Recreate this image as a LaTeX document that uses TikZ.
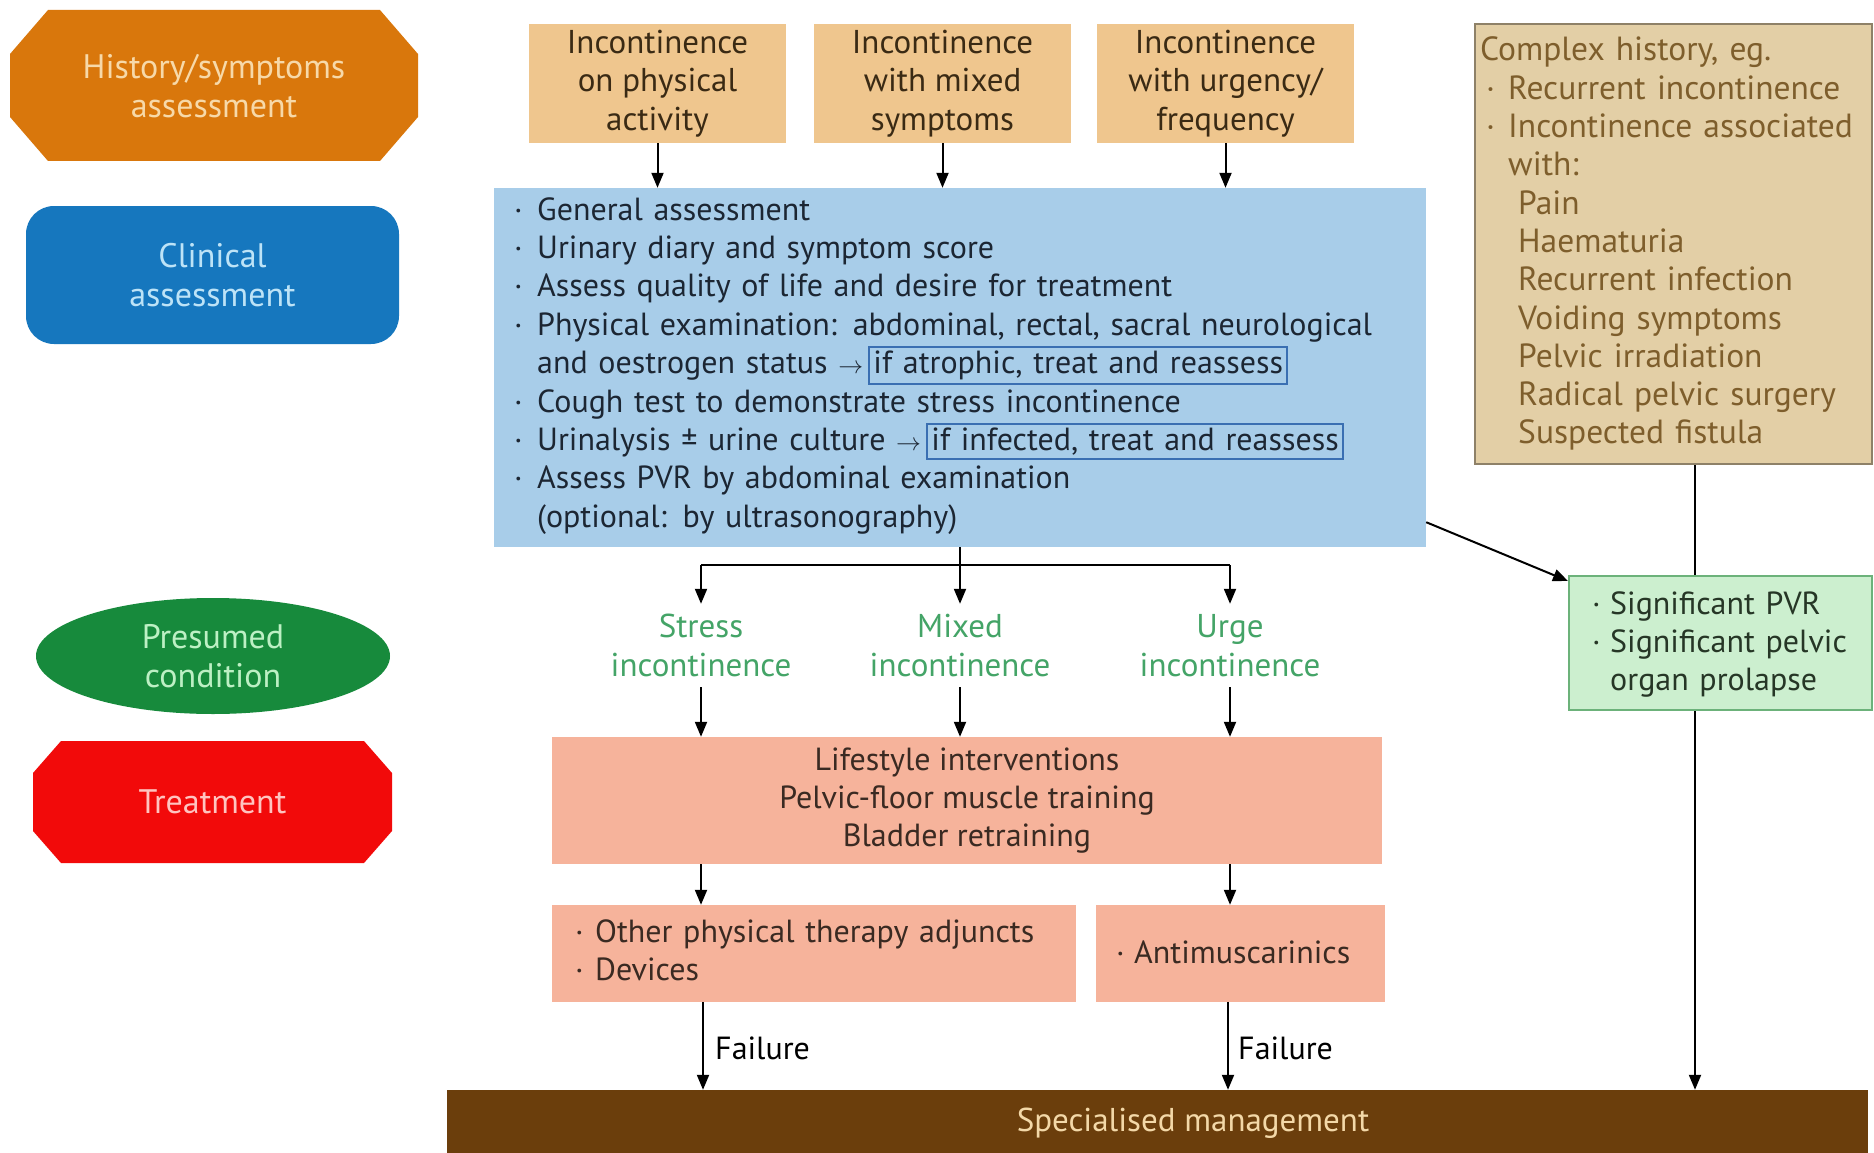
\documentclass[tikz,border=0pt]{standalone}
\usepackage{fontspec}
\setmainfont{PT Sans}
\usetikzlibrary{arrows.meta,shapes.geometric,calc}
\definecolor{histor}{HTML}{D9770C}
\definecolor{histtx}{HTML}{F7D9A9}
\definecolor{clinbl}{HTML}{1677BE}
\definecolor{clintx}{HTML}{BDE3F7}
\definecolor{presgr}{HTML}{178A3C}
\definecolor{prestx}{HTML}{BDF0C4}
\definecolor{treatr}{HTML}{F20A0A}
\definecolor{treattx}{HTML}{FFC4C0}
\definecolor{tanfill}{HTML}{EFC68E}
\definecolor{tantx}{HTML}{3A2A14}
\definecolor{cxfill}{HTML}{E3CFA6}
\definecolor{cxdraw}{HTML}{8E8168}
\definecolor{cxtx}{HTML}{7E5E2C}
\definecolor{bluefill}{HTML}{A8CDE9}
\definecolor{bluetx}{HTML}{1C2633}
\definecolor{blueframe}{HTML}{3A6FB2}
\definecolor{grnfill}{HTML}{CCEFCF}
\definecolor{grndraw}{HTML}{6CB27A}
\definecolor{grntx}{HTML}{263626}
\definecolor{labgr}{HTML}{44A467}
\definecolor{salmon}{HTML}{F6B39B}
\definecolor{salmtx}{HTML}{3A2A22}
\definecolor{specbr}{HTML}{6B3E0C}
\definecolor{spectx}{HTML}{F3D8A8}
\newcommand\fs{\fontsize{32}{38.4}\selectfont}
\newcommand\fsb{\fontsize{33}{38.4}\selectfont}
\newcommand\fcx{\fontsize{33.5}{38.3}\selectfont}
\newcommand\fl{\fontsize{34}{39.5}\selectfont}
\newcommand\bul{\makebox[23pt][l]{·}}
\newcommand\ind{\hspace*{23pt}}
\newcommand\ifbox[1]{{\setlength\fboxsep{3pt}\setlength\fboxrule{2pt}\fcolorbox{blueframe}{bluefill}{#1}}}
\tikzset{
  box/.style={rectangle, inner sep=0pt, align=center, font=\fs},
  txt/.style={inner sep=0pt, anchor=base west, align=left, font=\fs},
  legend/.style={inner sep=0pt, align=center, font=\fl},
  arr/.style={-{Triangle[length=15pt,width=12pt]}, line width=2pt, black},
  ln/.style={line width=2pt, black}
}
\begin{document}
\begin{tikzpicture}[x=1pt,y=-1pt]
\useasboundingbox[fill=white] (0,0) rectangle (1874,1153);
% legend
\fill[histor] (48,10) -- (380,10) -- (418,54) -- (418,117) -- (380,161) -- (48,161) -- (10,117) -- (10,54) -- cycle;
\node[legend, text=histtx, minimum width=408pt, minimum height=151pt] (lhist) at (214,86) {History/symptoms\\assessment};
\node[legend, rounded corners=28pt, fill=clinbl, text=clintx, minimum width=373pt, minimum height=138pt] (lclin) at (212.5,275) {Clinical\\assessment};
\node[legend, ellipse, fill=presgr, text=prestx, minimum width=354pt, minimum height=116pt] (lpres) at (213,656) {Presumed\\condition};
\fill[treatr] (61,741) -- (364,741) -- (392,773) -- (392,831) -- (364,863) -- (61,863) -- (33,831) -- (33,773) -- cycle;
\node[legend, text=treattx, minimum width=359pt, minimum height=122pt] (ltreat) at (212.5,802) {Treatment};
% top boxes
\node[box, font=\fsb, fill=tanfill, text=tantx, minimum width=257pt, minimum height=119pt] (t1) at (657.5,83.5) {Incontinence\\on physical\\activity};
\node[box, font=\fsb, fill=tanfill, text=tantx, minimum width=257pt, minimum height=119pt] (t2) at (942.5,83.5) {Incontinence\\with mixed\\symptoms};
\node[box, font=\fsb, fill=tanfill, text=tantx, minimum width=257pt, minimum height=119pt] (t3) at (1225.5,83.5) {Incontinence\\with urgency/\\frequency};
% blue box
\node[box, fill=bluefill, minimum width=932pt, minimum height=359pt] (blue) at (960,367.5) {};
\node[txt, text=bluetx, text width=905pt] (bluetext) at (514,220) {\bul General assessment\\
\bul Urinary diary and symptom score\\
\bul Assess quality of life and desire for treatment\\
\bul Physical examination: abdominal, rectal, sacral neurological\\
\ind and oestrogen status $\rightarrow$\,\ifbox{if atrophic, treat and reassess}\\
\bul Cough test to demonstrate stress incontinence\\
\bul Urinalysis ± urine culture $\rightarrow$\,\ifbox{if infected, treat and reassess}\\
\bul Assess PVR by abdominal examination\\
\ind (optional: by ultrasonography)};
% complex history
\node[box, fill=cxfill, draw=cxdraw, line width=2pt, minimum width=397pt, minimum height=440pt] (cx) at (1673.5,244) {};
\node[txt, font=\fcx, text=cxtx, text width=390pt] (cxtext) at (1480,61) {Complex history, eg.\\
\hspace*{6pt}\makebox[22pt][l]{·}Recurrent incontinence\\
\hspace*{6pt}\makebox[22pt][l]{·}Incontinence associated\\
\hspace*{28pt}with:\\
\hspace*{38pt}Pain\\
\hspace*{38pt}Haematuria\\
\hspace*{38pt}Recurrent infection\\
\hspace*{38pt}Voiding symptoms\\
\hspace*{38pt}Pelvic irradiation\\
\hspace*{38pt}Radical pelvic surgery\\
\hspace*{38pt}Suspected fistula};
% presumed condition labels
\node[box, font=\fsb, text=labgr, minimum width=200pt, minimum height=83pt] (stress) at (701,645.5) {Stress\\incontinence};
\node[box, font=\fsb, text=labgr, minimum width=200pt, minimum height=83pt] (mixed) at (960,645.5) {Mixed\\incontinence};
\node[box, font=\fsb, text=labgr, minimum width=200pt, minimum height=83pt] (urge) at (1230,645.5) {Urge\\incontinence};
% treatment boxes
\node[box, fill=salmon, text=salmtx, minimum width=830pt, minimum height=127pt] (life) at (967,800.5) {Lifestyle interventions\\Pelvic-floor muscle training\\Bladder retraining};
\node[box, fill=salmon, minimum width=524pt, minimum height=97pt] (other) at (814,953.5) {};
\node[txt, text=salmtx, text width=500pt] (othertext) at (575,942) {\makebox[20pt][l]{·}Other physical therapy adjuncts\\\makebox[20pt][l]{·}Devices};
\node[box, fill=salmon, minimum width=289pt, minimum height=97pt] (anti) at (1240.5,953.5) {};
\node[txt, text=salmtx, text width=270pt] (antitext) at (1116,963) {\makebox[18pt][l]{·}Antimuscarinics};
% specialised
\node[box, fill=specbr, minimum width=1421pt, minimum height=63pt] (spec) at (1157.5,1121.5) {};
\node[box, font=\fsb, text=spectx] (spectext) at (1193,1123) {Specialised management};
% arrows top -> blue
\draw[arr] (t1.south) -- (t1.south |- blue.north);
\draw[arr] (t2.south) -- (t2.south |- blue.north);
\draw[arr] (t3.south) -- (t3.south |- blue.north);
% branch
\coordinate (bj) at ($(blue.south)+(0,18)$);
\draw[ln] (blue.south) -- (bj);
\draw[ln] (stress.north |- bj) -- (urge.north |- bj);
\draw[arr] (stress.north |- bj) -- (stress.north);
\draw[arr] (bj) -- (mixed.north);
\draw[arr] (urge.north |- bj) -- (urge.north);
\draw[arr] (stress.south) -- (stress.south |- life.north);
\draw[arr] (mixed.south) -- (mixed.south |- life.north);
\draw[arr] (urge.south) -- (urge.south |- life.north);
\draw[arr] (stress.south |- life.south) -- (stress.south |- other.north);
\draw[arr] (urge.south |- life.south) -- (urge.south |- anti.north);
% failure
\coordinate (f1) at ($(stress.south |- other.south)+(2,0)$);
\coordinate (f2) at ($(urge.south |- anti.south)+(-2,0)$);
\draw[arr] (f1) -- (f1 |- spec.north);
\draw[arr] (f2) -- (f2 |- spec.north);
\node[txt, text=black, anchor=west] (fail1) at (715,1048) {Failure};
\node[txt, text=black, anchor=west] (fail2) at (1238,1048) {Failure};
% complex -> specialised
\coordinate (cxl) at ([xshift=21.5pt]cx.south);
\draw[arr] (cxl) -- (cxl |- spec.north);
% green box
\node[box, fill=grnfill, draw=grndraw, line width=2pt, minimum width=303pt, minimum height=134pt] (green) at (1720.5,643) {};
\node[txt, text=grntx, text width=270pt] (greentext) at (1592,614) {\makebox[18pt][l]{·}Significant PVR\\\makebox[18pt][l]{·}Significant pelvic\\\hspace*{18pt}organ prolapse};
\draw[arr] ([yshift=25pt]blue.south east) -- ([yshift=-6pt]green.north west);
\end{tikzpicture}
\end{document}
